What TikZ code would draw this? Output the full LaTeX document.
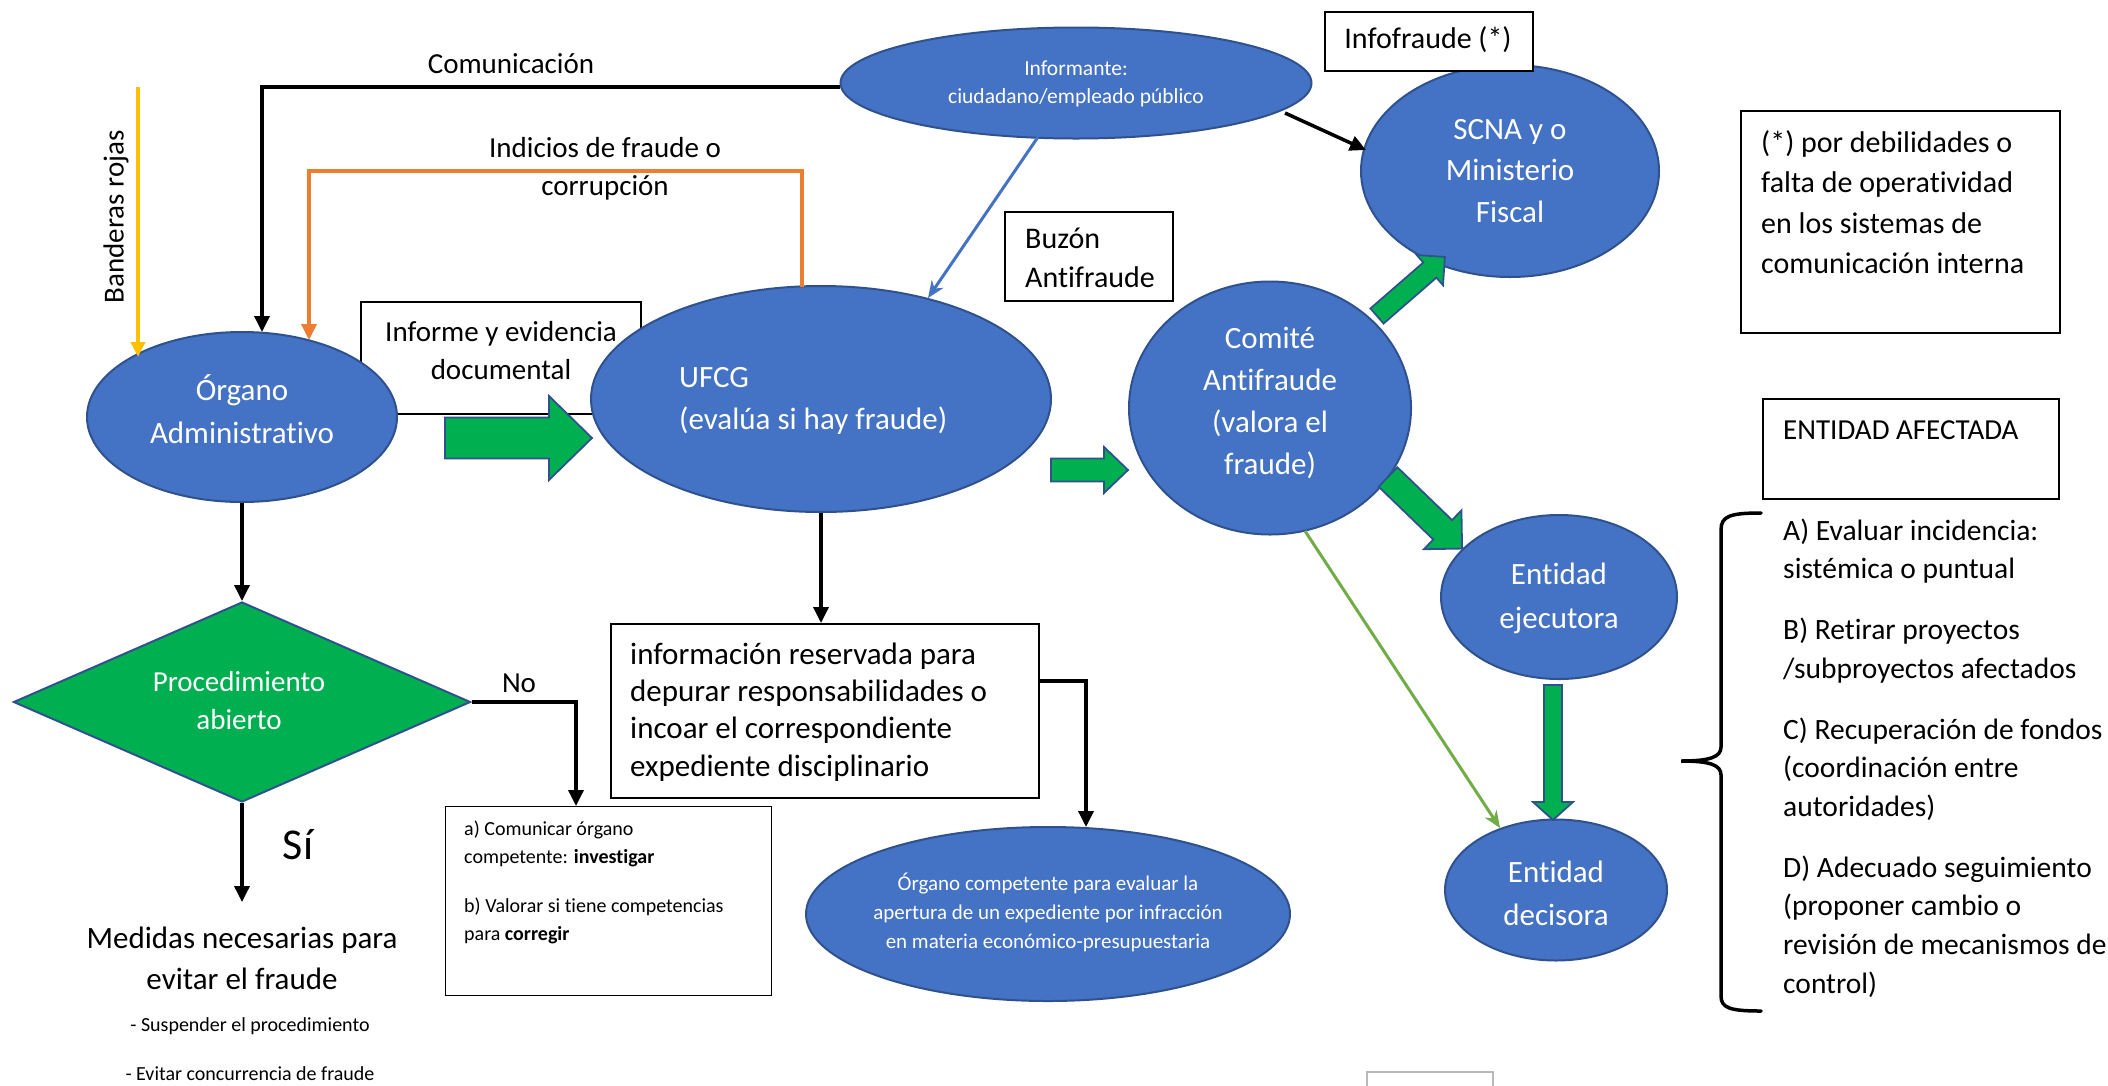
\documentclass[tikz,border=0pt]{standalone}
\usepackage{fontspec}
\setmainfont{Carlito}[Ligatures=NoCommon,Contextuals=NoAlternate]
\usetikzlibrary{shapes.geometric,arrows.meta,calc}
\definecolor{eblue}{HTML}{4472C4}
\definecolor{eborder}{HTML}{2F528F}
\definecolor{agreen}{HTML}{00B050}
\definecolor{aorange}{HTML}{ED7D31}
\definecolor{ayellow}{HTML}{FFC000}
\definecolor{lgreen}{HTML}{70AD47}
\newcommand{\myfs}[2]{\fontsize{#1pt}{#2pt}\selectfont}
\newcommand{\blockarr}[7]{%
  \begin{scope}[shift={(#1,#2)},rotate=#3]
    \draw[barrow] (0,#5) -- ({#4-#7},#5) -- ({#4-#7},#6) -- (#4,0) -- ({#4-#7},-#6) -- ({#4-#7},-#5) -- (0,-#5) -- cycle;
  \end{scope}}
\begin{document}
\begin{tikzpicture}[x=1pt,y=-1pt,
  ell/.style={ellipse, draw=eborder, fill=eblue, line width=2pt, inner sep=0pt},
  wtxt/.style={text=white, align=center, inner sep=0pt},
  btxt/.style={text=black, align=center, inner sep=0pt},
  bx/.style={draw=black, line width=2pt, fill=white, inner sep=0pt, anchor=north west},
  blk/.style={draw=black, line width=3.5pt, -{Triangle[length=16pt,width=15pt]}},
  orn/.style={draw=aorange, line width=3.5pt, -{Triangle[length=16pt,width=15pt]}},
  yel/.style={draw=ayellow, line width=3.5pt, -{Triangle[length=15pt,width=14pt]}},
  blu/.style={draw=eblue, line width=3pt, -{Stealth[length=17pt,width=14pt]}},
  lgr/.style={draw=lgreen, line width=3pt, -{Stealth[length=17pt,width=14pt]}},
  barrow/.style={draw=eborder, fill=agreen, line width=1.8pt, line join=miter}
]
\fill[white] (0,0) rectangle (2108,1085);
\useasboundingbox (0,0) rectangle (2108,1085);

% box behind the ellipses
\node[bx, minimum width=280, minimum height=112] (ibox) at (360,301) {};
\node[btxt, font=\myfs{29}{38}] (itxt) at (501,351) {Informe y evidencia\\documental};

% ellipses
\node[ell, minimum width=310, minimum height=170] (org) at (242,417) {};
\node[ell, minimum width=460, minimum height=226] (ufcg) at (821,399) {};
\node[ell, minimum width=471, minimum height=111] (inf) at (1076,83) {};
\node[ell, minimum width=298, minimum height=212] (scna) at (1510,171) {};
\node[ell, minimum width=282, minimum height=253] (com) at (1270,408) {};
\node[ell, minimum width=236, minimum height=164] (eje) at (1559,597) {};
\node[ell, minimum width=222, minimum height=141] (dec) at (1556,890) {};
\node[ell, minimum width=484, minimum height=174] (oc) at (1048,914) {};

% diamond
\node[diamond, draw=eborder, fill=agreen, line width=2pt, minimum width=457, minimum height=200, inner sep=0pt] (dia) at (242,702) {};

% boxes
\node[bx, minimum width=168, minimum height=89] (buz) at (1004,211) {};
\node[bx, minimum width=208, minimum height=59] (infof) at (1324,11) {};
\node[bx, minimum width=319, minimum height=222] (note) at (1740,110) {};
\node[bx, minimum width=296, minimum height=100] (ent) at (1762,398) {};
\node[bx, line width=1.2pt, minimum width=326, minimum height=189] (ab) at (445,806) {};
\node[bx, minimum width=428, minimum height=174] (info) at (610,623) {};

% block arrows
\blockarr{445}{438}{0}{147}{20.5}{42}{43}
\blockarr{1051}{470}{0}{77}{11.5}{23}{24}
\blockarr{1377}{316}{41}{90}{10}{20}{20}
\blockarr{1388}{477}{-44}{103}{13.5}{27}{27}
\blockarr{1553}{685}{-90}{135}{9}{20}{18}

% connector coordinates
\coordinate (oA) at ($(ufcg.north)+(-19,2)$);
\coordinate (oB) at (309,340);
\coordinate (yT) at (138,87);
\coordinate (yB) at (138,357);
\coordinate (bA) at (1038,137);
\coordinate (bB) at (928,298);
\coordinate (sA) at (1285,113);
\coordinate (sB) at (1366,150);
\coordinate (gA) at (1305,531);
\coordinate (gB) at (1500,828);
\coordinate (siEnd) at (242,902);

% connectors
\draw[blk] ($(inf.west)+(0,4)$) -| ($(org.north)+(20,1)$);
\draw[orn] (oA) -- ++(0,-116) -| (oB);
\draw[yel] (yT) -- (yB);
\draw[blu] (bA) -- (bB);
\draw[blk] (sA) -- (sB);
\draw[lgr] (gA) -- (gB);
\draw[blk] (org.south) -- (dia.north);
\draw[blk] (dia.south) -- (siEnd);
\draw[blk] (dia.east) -| ($(ab.north west)+(131,0)$);
\draw[blk] (ufcg.south) -- (ufcg.south |- info.north);
\draw[blk] ($(info.north east)+(0,58)$) -| ($(oc.north)+(38,1)$);

% brace
\draw[line width=3.5pt, line cap=round] (1761,513) .. controls (1730,513) and (1721,516) .. (1721,530) -- (1721,747) .. controls (1721,757) and (1710,761) .. (1681,761) .. controls (1710,761) and (1721,765) .. (1721,775) -- (1721,996) .. controls (1721,1008) and (1730,1011) .. (1761,1011);

% partial box at bottom
\draw[draw=gray!55, line width=1.5pt] (1367,1072) rectangle (1493,1100);

% texts
\node[btxt, font=\myfs{29}{36}] (tcom) at (511,64) {Comunicación};
\node[btxt, font=\myfs{29}{38}] (tind) at (605,169) {Indicios de fraude o\\corrupción};
\node[btxt, rotate=90, font=\myfs{29}{34}] (tban) at (116,217) {Banderas rojas};
\node[wtxt, font=\myfs{31}{43}] (torg) at (242,409) {Órgano\\Administrativo};
\node[wtxt, align=left, anchor=west, font=\myfs{31}{42}] (tufcg) at (679,401) {UFCG\\(evalúa si hay fraude)};
\node[wtxt, font=\myfs{21.5}{28}] (tinf) at (1076,84) {Informante:\\ciudadano/empleado público};
\node[btxt, align=left, anchor=west, font=\myfs{30}{39}] (tbuz) at (1025,258) {Buzón\\Antifraude};
\node[btxt, font=\myfs{30}{36}] (tinfof) at (1428,40) {Infofraude (*)};
\node[wtxt, font=\myfs{31}{41.5}] (tscna) at (1510,171) {SCNA y o\\Ministerio\\Fiscal};
\node[wtxt, font=\myfs{31}{42}] (tcomi) at (1270,403) {Comité\\Antifraude\\(valora el\\fraude)};
\node[wtxt, font=\myfs{31}{44}] (teje) at (1559,598) {Entidad\\ejecutora};
\node[wtxt, font=\myfs{31}{43}] (tdec) at (1556,893) {Entidad\\decisora};
\node[wtxt, font=\myfs{21}{29}] (toc) at (1048,912) {Órgano competente para evaluar la\\apertura de un expediente por infracción\\en materia económico-presupuestaria};
\node[btxt, align=left, anchor=west, font=\myfs{30}{40.5}] (tnote) at (1761,202) {(*) por debilidades o\\falta de operatividad\\en los sistemas de\\comunicación interna};
\node[btxt, anchor=west, font=\myfs{29}{36}] (tent) at (1783,430) {ENTIDAD AFECTADA};
\node[btxt, align=left, anchor=west, font=\myfs{29.5}{38.7}] (tlist) at (1783,758) {A) Evaluar incidencia:\\sistémica o puntual\\[22pt]B) Retirar proyectos\\/subproyectos afectados\\[22pt]C) Recuperación de fondos\\(coordinación entre\\autoridades)\\[22pt]D) Adecuado seguimiento\\(proponer cambio o\\revisión de mecanismos de\\control)};
\node[wtxt, font=\myfs{29}{38}] (tproc) at (239,701) {Procedimiento\\abierto};
\node[btxt, font=\myfs{29}{36}] (tno) at (519,683) {No};
\node[btxt, font=\myfs{44}{50}] (tsi) at (298,845) {Sí};
\node[btxt, font=\myfs{31}{41}] (tmed) at (242,958) {Medidas necesarias para\\evitar el fraude};
\node[btxt, font=\myfs{20}{26}] (tsus) at (250,1026) {- Suspender el procedimiento};
\node[btxt, font=\myfs{20}{26}] (tevi) at (250,1074) {- Evitar concurrencia de fraude};
\node[btxt, align=left, anchor=west, font=\myfs{20}{28}] (tab) at (464,882) {a) Comunicar órgano\\competente: \textbf{investigar}\\[21pt]b) Valorar si tiene competencias\\para \textbf{corregir}};
\node[btxt, align=left, anchor=west, font=\myfs{31}{37.3}] (tinfo) at (630,712) {información reservada para\\depurar responsabilidades o\\incoar el correspondiente\\expediente disciplinario};
\end{tikzpicture}
\end{document}
